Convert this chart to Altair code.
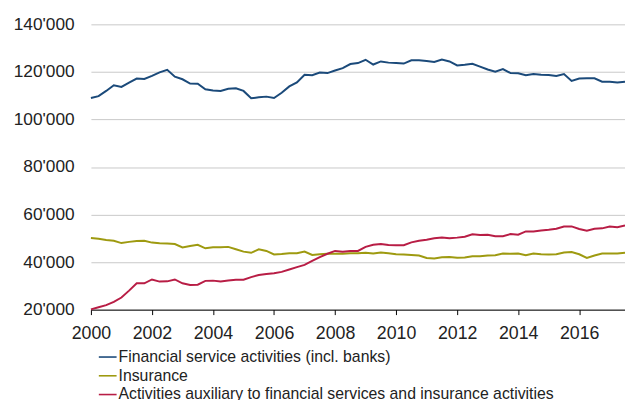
import altair as alt
import pandas as pd

series_names = [
    "Financial service activities (incl. banks)",
    "Insurance",
    "Activities auxiliary to financial services and insurance activities",
]
series_colors = ["#1b4a7a", "#9e9a10", "#b81d45"]

# quarterly, 2000Q1 .. 2017Q3
years = [2000 + 0.25 * i for i in range(71)]

financial = [
    109000, 109800, 112000, 114400, 113700, 115500, 117200, 117000, 118300, 119800,
    120900, 118000, 116900, 115100, 115000, 112700, 112200, 112000, 112900, 113100,
    112000, 108900, 109300, 109600, 109000, 111200, 113900, 115600, 118800, 118600,
    119700, 119500, 120600, 121600, 123300, 123700, 125100, 123100, 124400, 123900,
    123700, 123500, 124900, 124900, 124600, 124200, 125200, 124400, 122700, 123000,
    123400, 122200, 121000, 120100, 121200, 119500, 119400, 118600, 119100, 118800,
    118700, 118300, 119100, 116200, 117200, 117300, 117300, 115900, 115900, 115500,
    115900,
]
insurance = [
    50100, 49800, 49300, 49000, 48000, 48500, 48900, 49000, 48200, 47900,
    47800, 47600, 46200, 46800, 47300, 45800, 46200, 46200, 46400, 45400,
    44400, 43900, 45400, 44700, 43200, 43400, 43700, 43700, 44400, 43000,
    43300, 43500, 43500, 43500, 43700, 43700, 43900, 43600, 44000, 43700,
    43300, 43200, 43000, 42800, 41700, 41500, 42000, 42100, 41800, 41900,
    42500, 42500, 42800, 42900, 43600, 43500, 43600, 42900, 43600, 43300,
    43200, 43300, 44000, 44200, 43300, 41800, 42800, 43600, 43600, 43600,
    43900,
]
auxiliary = [
    20100, 21000, 21900, 23300, 25100, 28000, 31100, 31100, 32700, 31800,
    31900, 32700, 31100, 30400, 30500, 32100, 32200, 31800, 32300, 32600,
    32600, 33700, 34600, 35000, 35300, 35900, 36900, 37900, 38800, 40500,
    42100, 43500, 44700, 44400, 44700, 44700, 46400, 47300, 47600, 47200,
    47100, 47100, 48300, 49000, 49400, 50000, 50300, 50000, 50300, 50700,
    51700, 51400, 51500, 50900, 50900, 51800, 51500, 52900, 52900, 53300,
    53600, 54000, 55000, 55000, 53900, 53200, 54000, 54200, 55000, 54700,
    55400,
]

x_ticks = [2000, 2002, 2004, 2006, 2008, 2010, 2012, 2014, 2016]
y_ticks = [20000, 40000, 60000, 80000, 100000, 120000, 140000]

rows = []
for name, vals in zip(series_names, [financial, insurance, auxiliary]):
    for yr, v in zip(years, vals):
        rows.append({"year": yr, "value": v, "series": name})
df = pd.DataFrame(rows)

FONT = "Liberation Sans"

chart = (
    alt.Chart(df)
    .mark_line(strokeWidth=2)
    .encode(
        x=alt.X(
            "year:Q",
            scale=alt.Scale(domain=[2000, 2017.5], nice=False, zero=False),
            axis=alt.Axis(
                values=x_ticks,
                format="d",
                title=None,
                grid=False,
                domainColor="#000000",
                domainWidth=1,
                tickColor="#000000",
                tickSize=5,
                labelPadding=10,
                labelFontSize=18,
                labelFont=FONT,
                labelColor="#222222",
                labelFlush=False,
            ),
        ),
        y=alt.Y(
            "value:Q",
            scale=alt.Scale(domain=[20000, 140000], nice=False, zero=False),
            axis=alt.Axis(
                values=y_ticks,
                title=None,
                grid=True,
                gridColor="#c8c8c8",
                gridWidth=1,
                domain=False,
                ticks=False,
                labelPadding=17,
                labelFontSize=17.5,
                labelFont=FONT,
                labelColor="#222222",
                labelExpr="replace(format(datum.value, ','), ',', \"'\")",
            ),
        ),
        color=alt.Color(
            "series:N",
            scale=alt.Scale(domain=series_names, range=series_colors),
            sort=series_names,
            legend=alt.Legend(
                title=None,
                orient="none",
                legendX=7,
                legendY=327,
                direction="vertical",
                symbolType="stroke",
                symbolSize=324,
                symbolStrokeWidth=1.6,
                labelFontSize=16,
                labelFont=FONT,
                labelColor="#222222",
                labelOffset=1,
                rowPadding=1,
                padding=0,
                labelLimit=700,
            ),
        ),
    )
    .properties(
        width=541,
        height=289,
        autosize=alt.AutoSizeParams(type="none"),
        padding={"left": 84, "top": 14, "right": 0, "bottom": 92},
    )
    .configure_view(strokeWidth=0)
)

chart.save("out.html", embed_options={"renderer": "svg", "actions": False})
